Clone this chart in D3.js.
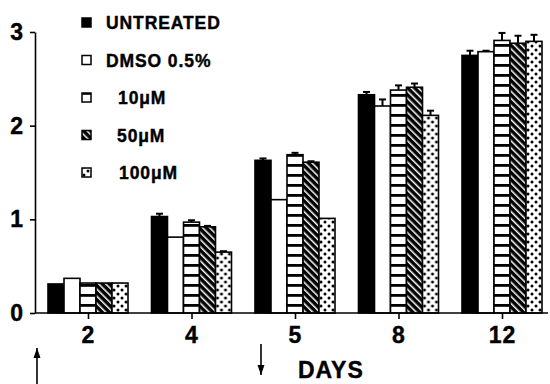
<!DOCTYPE html>
<html>
<head>
<meta charset="utf-8">
<script src="https://cdn.jsdelivr.net/npm/d3@7"></script>
<style>
  body { margin: 0; background: #fff; }
  svg text { font-family: "Liberation Sans", Arial, Helvetica, sans-serif; font-weight: bold; fill: #000; stroke: #000; stroke-width: 0.4px; }
</style>
</head>
<body>
<svg id="chart" width="550" height="384"></svg>
<script>
/* data */
var days = ["2", "4", "5", "8", "12"];
var seriesNames = ["UNTREATED", "DMSO 0.5%", "10\u03bcM", "50\u03bcM", "100\u03bcM"];
var untreated    = [0.31, 1.03, 1.63, 2.33, 2.75];
var dmso         = [0.37, 0.81, 1.21, 2.21, 2.79];
var conc10       = [0.32, 0.97, 1.69, 2.38, 2.91];
var conc50       = [0.32, 0.92, 1.61, 2.41, 2.88];
var conc100      = [0.32, 0.65, 1.01, 2.11, 2.90];
var untreatedErr = [0, 0.03, 0.02, 0.03, 0.05];
var dmsoErr      = [0, 0, 0, 0.07, 0.01];
var conc10Err    = [0, 0.02, 0.02, 0.05, 0.08];
var conc50Err    = [0, 0.01, 0.01, 0.04, 0.08];
var conc100Err   = [0, 0.01, 0, 0.05, 0.07];
var yTicks = [0, 1, 2, 3];

var values = [untreated, dmso, conc10, conc50, conc100];
var errors = [untreatedErr, dmsoErr, conc10Err, conc50Err, conc100Err];
var fills = ["#000", "#fff", "url(#stripes)", "url(#hatch)", "url(#dots)"];

var svg = d3.select("#chart");

/* patterns for the bars */
var defs = svg.append("defs");
var stripes = defs.append("pattern").attr("id", "stripes")
  .attr("patternUnits", "userSpaceOnUse").attr("width", 10).attr("height", 10);
stripes.append("rect").attr("width", 10).attr("height", 10).attr("fill", "#fff");
stripes.append("rect").attr("y", 4).attr("width", 10).attr("height", 2.8).attr("fill", "#000");

var hatch = defs.append("pattern").attr("id", "hatch")
  .attr("patternUnits", "userSpaceOnUse").attr("width", 5).attr("height", 5)
  .attr("patternTransform", "rotate(-45)");
hatch.append("rect").attr("width", 5).attr("height", 5).attr("fill", "#000");
hatch.append("rect").attr("x", 1).attr("width", 1.5).attr("height", 5).attr("fill", "#fff");

var dots = defs.append("pattern").attr("id", "dots")
  .attr("patternUnits", "userSpaceOnUse").attr("width", 8).attr("height", 8);
dots.append("rect").attr("width", 8).attr("height", 8).attr("fill", "#fff");
dots.append("circle").attr("cx", 2).attr("cy", 2).attr("r", 1.5).attr("fill", "#000");
dots.append("circle").attr("cx", 6).attr("cy", 6).attr("r", 1.5).attr("fill", "#000");

/* scales */
var x = d3.scalePoint().domain(days).range([88, 502]);
var xs = d3.scaleBand().domain(d3.range(seriesNames.length)).range([-40, 40]);
var y = d3.scaleLinear().domain([0, 3]).range([313, 32]);

/* bars */
var groups = svg.append("g").selectAll("g")
  .data(days)
  .join("g")
  .attr("transform", d => "translate(" + x(d) + ",0)");

groups.selectAll("rect")
  .data((d, i) => values.map((s, k) => ({ k: k, v: s[i], e: errors[k][i] })))
  .join("rect")
  .attr("x", d => xs(d.k))
  .attr("y", d => y(d.v))
  .attr("width", xs.bandwidth())
  .attr("height", d => y(0) - y(d.v))
  .attr("fill", d => fills[d.k])
  .attr("stroke", "#000")
  .attr("stroke-width", 1.6);

/* error bars */
var errs = groups.selectAll("g.err")
  .data((d, i) => values.map((s, k) => ({ k: k, v: s[i], e: errors[k][i] })).filter(d => d.e > 0))
  .join("g").attr("class", "err");
errs.append("line")
  .attr("x1", d => xs(d.k) + xs.bandwidth() / 2)
  .attr("x2", d => xs(d.k) + xs.bandwidth() / 2)
  .attr("y1", d => y(d.v))
  .attr("y2", d => y(d.v + d.e))
  .attr("stroke", "#000").attr("stroke-width", 2);
errs.append("line")
  .attr("x1", d => xs(d.k) + xs.bandwidth() / 2 - 3.5)
  .attr("x2", d => xs(d.k) + xs.bandwidth() / 2 + 3.5)
  .attr("y1", d => y(d.v + d.e))
  .attr("y2", d => y(d.v + d.e))
  .attr("stroke", "#000").attr("stroke-width", 2);

/* axes */
var yAxis = svg.append("g")
  .attr("transform", "translate(35,0)")
  .call(d3.axisLeft(y).tickValues(yTicks).tickFormat(d3.format("d")).tickSize(5).tickSizeOuter(0).tickPadding(6));
var xAxis = svg.append("g")
  .attr("transform", "translate(0,313)")
  .call(d3.axisBottom(x).tickSize(6).tickSizeOuter(0).tickPadding(8));
xAxis.select(".domain").attr("d", "M35,0H548");
[yAxis, xAxis].forEach(function (a) {
  a.selectAll("path, line").attr("stroke", "#000").attr("stroke-width", 1.6);
  a.selectAll("text").style("font-size", "23px").style("font-weight", "bold")
    .style("letter-spacing", "1px").attr("fill", "#000");
});

/* x label */
svg.append("text").attr("x", 298).attr("y", 378)
  .style("font-size", "23px").style("letter-spacing", "1px").text("DAYS");

/* arrows under the axis */
function arrow(ax, yFrom, yTo) {
  var dir = yTo > yFrom ? 1 : -1;
  svg.append("line").attr("x1", ax).attr("x2", ax).attr("y1", yFrom).attr("y2", yTo)
    .attr("stroke", "#000").attr("stroke-width", 1.6);
  svg.append("path")
    .attr("d", "M" + (ax - 3.5) + "," + (yTo - dir * 10) + "L" + ax + "," + yTo + "L" + (ax + 3.5) + "," + (yTo - dir * 10) + "Z")
    .attr("fill", "#000");
}
arrow(37, 384, 348);
arrow(261, 344, 375);

/* legend */
var legendY = d3.scalePoint().domain(d3.range(seriesNames.length)).range([23, 173]);
var legendIndent = [0, 0, 12, 11, 13];
var legend = svg.append("g").selectAll("g")
  .data(seriesNames)
  .join("g")
  .attr("transform", (d, i) => "translate(82," + legendY(i) + ")");
legend.append("rect")
  .attr("x", 0).attr("y", -5).attr("width", 9).attr("height", 9)
  .attr("fill", (d, i) => fills[i]).attr("stroke", "#000").attr("stroke-width", 1.5);
legend.append("text")
  .attr("x", (d, i) => 24 + legendIndent[i])
  .attr("y", 6)
  .style("font-size", "17.5px")
  .style("letter-spacing", "0.9px")
  .text(d => d);
</script>
</body>
</html>
